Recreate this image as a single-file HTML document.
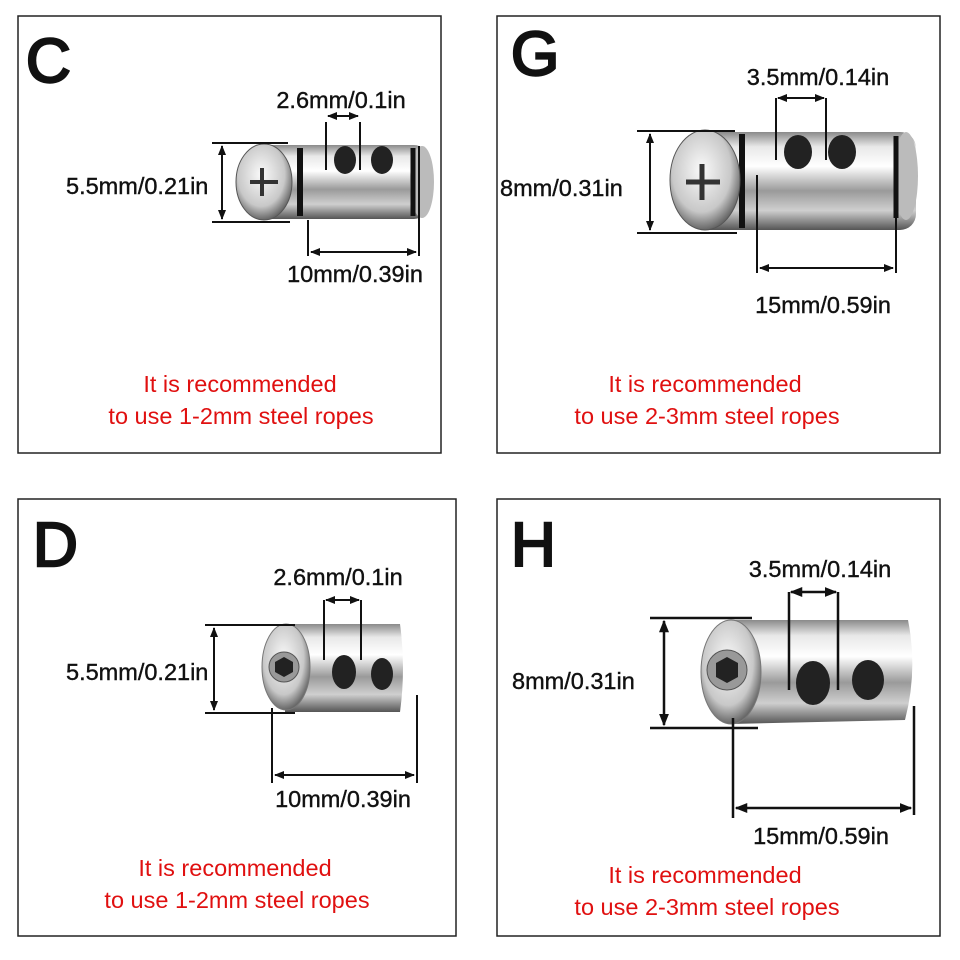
<!DOCTYPE html>
<html><head><meta charset="utf-8"><style>
html,body{margin:0;padding:0;background:#fff;}
svg{display:block;}
text{font-family:"Liberation Sans",sans-serif;}
.lbl{font-size:23.5px;fill:#111;stroke:#111;stroke-width:0.4px;}
.c{text-anchor:middle;}
.red{font-size:23.5px;fill:#e01010;text-anchor:middle;}
.big{font-size:62px;fill:#111;stroke:#111;stroke-width:2.5px;}
</style></head><body>
<svg width="960" height="960" viewBox="0 0 960 960" xmlns="http://www.w3.org/2000/svg">
<defs>
<linearGradient id="m" x1="0" y1="0" x2="0" y2="1">
<stop offset="0" stop-color="#8a8a8a"/><stop offset="0.15" stop-color="#e8e8e8"/><stop offset="0.35" stop-color="#ffffff"/><stop offset="0.6" stop-color="#9a9a9a"/><stop offset="0.8" stop-color="#cfcfcf"/><stop offset="1" stop-color="#555"/>
</linearGradient>
<radialGradient id="h" cx="0.45" cy="0.4" r="0.6">
<stop offset="0" stop-color="#fafafa"/><stop offset="0.7" stop-color="#c8c8c8"/><stop offset="1" stop-color="#666"/>
</radialGradient>
<marker id="a" viewBox="0 0 10 10" refX="9" refY="5" markerWidth="5" markerHeight="5" orient="auto-start-reverse"><path d="M0,1 L10,5 L0,9 z" fill="#111"/></marker>
</defs>
<g fill="none" stroke="#222" stroke-width="1.5">
<rect x="18" y="16" width="423" height="437"/>
<rect x="497" y="16" width="443" height="437"/>
<rect x="18" y="499" width="438" height="437"/>
<rect x="497" y="499" width="443" height="437"/>
</g>
<text class="big" x="26" y="82">C</text>
<text class="big" x="511" y="75">G</text>
<text class="big" x="33" y="566">D</text>
<text class="big" x="511" y="566">H</text>

<!-- C cylinder -->
<rect x="258" y="145" width="170" height="74" rx="14" fill="url(#m)"/>
<ellipse cx="422" cy="182" rx="12" ry="36" fill="#bbb"/>
<line x1="413" y1="148" x2="413" y2="216" stroke="#111" stroke-width="5"/>
<line x1="300" y1="148" x2="300" y2="216" stroke="#111" stroke-width="6"/>
<ellipse cx="345" cy="160" rx="11" ry="14" fill="#222"/><ellipse cx="382" cy="160" rx="11" ry="14" fill="#222"/>
<ellipse cx="264" cy="182" rx="28" ry="38" fill="url(#h)" stroke="#555"/>
<path d="M250 182h28M262 168v28" stroke="#333" stroke-width="4"/>
<g stroke="#111" stroke-width="2">
<line x1="212" y1="143" x2="288" y2="143"/><line x1="212" y1="222" x2="290" y2="222"/>
<line x1="222" y1="146" x2="222" y2="219" marker-start="url(#a)" marker-end="url(#a)"/>
<line x1="326" y1="122" x2="326" y2="170"/><line x1="360" y1="122" x2="360" y2="170"/>
<line x1="328" y1="116" x2="358" y2="116" marker-start="url(#a)" marker-end="url(#a)"/>
<line x1="308" y1="220" x2="308" y2="256"/><line x1="419" y1="146" x2="419" y2="256"/>
<line x1="311" y1="252" x2="416" y2="252" marker-start="url(#a)" marker-end="url(#a)"/>
</g>
<text class="lbl c" x="341" y="108">2.6mm/0.1in</text>
<text class="lbl" x="66" y="194">5.5mm/0.21in</text>
<text class="lbl c" x="355" y="282">10mm/0.39in</text>
<text class="red" x="240" y="392">It is recommended</text>
<text class="red" x="241" y="424">to use 1-2mm steel ropes</text>

<!-- G cylinder -->
<rect x="690" y="132" width="226" height="98" rx="16" fill="url(#m)"/>
<ellipse cx="906" cy="176" rx="12" ry="44" fill="#bbb"/>
<line x1="896" y1="136" x2="896" y2="218" stroke="#111" stroke-width="5"/>
<line x1="742" y1="134" x2="742" y2="228" stroke="#111" stroke-width="6"/>
<ellipse cx="798" cy="152" rx="14" ry="17" fill="#222"/><ellipse cx="842" cy="152" rx="14" ry="17" fill="#222"/>
<ellipse cx="705" cy="180" rx="35" ry="50" fill="url(#h)" stroke="#555"/>
<path d="M686 182h34M702 164v36" stroke="#333" stroke-width="5"/>
<g stroke="#111" stroke-width="2">
<line x1="637" y1="131" x2="735" y2="131"/><line x1="637" y1="233" x2="737" y2="233"/>
<line x1="650" y1="134" x2="650" y2="230" marker-start="url(#a)" marker-end="url(#a)"/>
<line x1="776" y1="98" x2="776" y2="160"/><line x1="826" y1="98" x2="826" y2="160"/>
<line x1="778" y1="98" x2="824" y2="98" marker-start="url(#a)" marker-end="url(#a)"/>
<line x1="757" y1="175" x2="757" y2="273"/><line x1="896" y1="150" x2="896" y2="273"/>
<line x1="760" y1="268" x2="893" y2="268" marker-start="url(#a)" marker-end="url(#a)"/>
</g>
<text class="lbl c" x="818" y="85">3.5mm/0.14in</text>
<text class="lbl" x="500" y="196">8mm/0.31in</text>
<text class="lbl c" x="823" y="313">15mm/0.59in</text>
<text class="red" x="705" y="392">It is recommended</text>
<text class="red" x="707" y="424">to use 2-3mm steel ropes</text>

<!-- D cylinder -->
<path d="M285 624 L400 624 Q406 668 400 712 L285 712 Z" fill="url(#m)"/>
<ellipse cx="286" cy="667" rx="24" ry="43" fill="url(#h)" stroke="#777"/>
<circle cx="284" cy="667" r="15" fill="#999" stroke="#555"/>
<polygon points="284,657 293,662 293,672 284,677 275,672 275,662" fill="#222"/>
<ellipse cx="344" cy="672" rx="12" ry="17" fill="#222"/><ellipse cx="382" cy="674" rx="11" ry="16" fill="#222"/>
<g stroke="#111" stroke-width="2">
<line x1="205" y1="625" x2="295" y2="625"/><line x1="205" y1="713" x2="295" y2="713"/>
<line x1="214" y1="628" x2="214" y2="710" marker-start="url(#a)" marker-end="url(#a)"/>
<line x1="324" y1="600" x2="324" y2="660"/><line x1="361" y1="600" x2="361" y2="660"/>
<line x1="326" y1="600" x2="359" y2="600" marker-start="url(#a)" marker-end="url(#a)"/>
<line x1="272" y1="708" x2="272" y2="783"/><line x1="417" y1="695" x2="417" y2="783"/>
<line x1="275" y1="775" x2="414" y2="775" marker-start="url(#a)" marker-end="url(#a)"/>
</g>
<text class="lbl c" x="338" y="585">2.6mm/0.1in</text>
<text class="lbl" x="66" y="680">5.5mm/0.21in</text>
<text class="lbl c" x="343" y="807">10mm/0.39in</text>
<text class="red" x="235" y="876">It is recommended</text>
<text class="red" x="237" y="908">to use 1-2mm steel ropes</text>

<!-- H cylinder -->
<path d="M730 620 L908 620 Q918 670 905 720 L730 724 Z" fill="url(#m)"/>
<ellipse cx="731" cy="672" rx="30" ry="52" fill="url(#h)" stroke="#777"/>
<circle cx="727" cy="670" r="20" fill="#999" stroke="#555"/>
<polygon points="727,657 738,663 738,677 727,683 716,677 716,663" fill="#222"/>
<ellipse cx="813" cy="683" rx="17" ry="22" fill="#222"/><ellipse cx="868" cy="680" rx="16" ry="20" fill="#222"/>
<g stroke="#111" stroke-width="2.5">
<line x1="650" y1="618" x2="752" y2="618"/><line x1="650" y1="728" x2="758" y2="728"/>
<line x1="664" y1="621" x2="664" y2="725" marker-start="url(#a)" marker-end="url(#a)"/>
<line x1="789" y1="592" x2="789" y2="690"/><line x1="838" y1="592" x2="838" y2="690"/>
<line x1="791" y1="592" x2="836" y2="592" marker-start="url(#a)" marker-end="url(#a)"/>
<line x1="733" y1="718" x2="733" y2="818"/><line x1="914" y1="706" x2="914" y2="815"/>
<line x1="736" y1="808" x2="911" y2="808" marker-start="url(#a)" marker-end="url(#a)"/>
</g>
<text class="lbl c" x="820" y="577">3.5mm/0.14in</text>
<text class="lbl" x="512" y="689">8mm/0.31in</text>
<text class="lbl c" x="821" y="844">15mm/0.59in</text>
<text class="red" x="705" y="883">It is recommended</text>
<text class="red" x="707" y="915">to use 2-3mm steel ropes</text>
</svg>
</body></html>
